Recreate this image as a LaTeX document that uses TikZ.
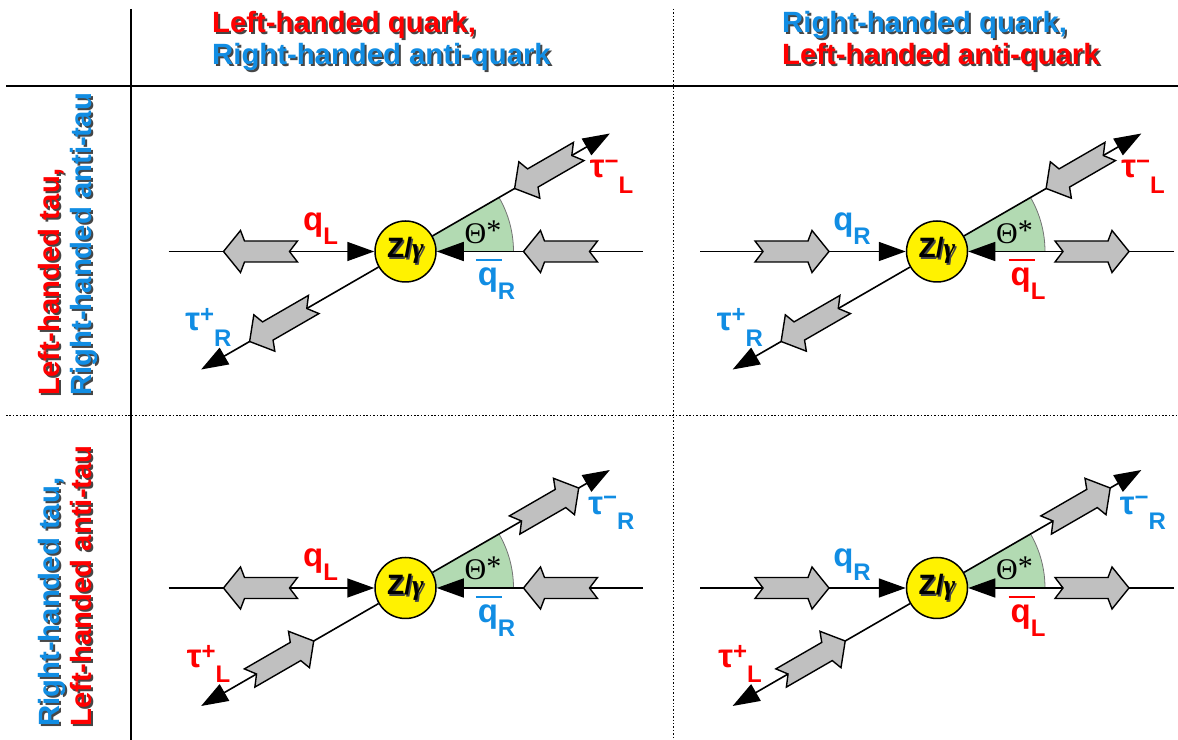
\documentclass[tikz,border=0pt]{standalone}
\usepackage{fontspec}
\setmainfont{Liberation Sans}
\newfontfamily\thetafont{Liberation Serif}
\usetikzlibrary{arrows.meta}
\definecolor{lred}{RGB}{255,0,0}
\definecolor{lblue}{RGB}{17,141,227}
\definecolor{shadow}{RGB}{70,70,70}
\definecolor{spingray}{RGB}{192,192,192}
\definecolor{wedgegreen}{RGB}{178,218,178}
\newcommand{\shd}[3][2bp]{\makebox[0pt][l]{\hspace*{#1}\raisebox{-2bp}{\color{shadow}#3}}\textcolor{#2}{#3}}
\newcommand{\subfnt}{\fontsize{24bp}{24bp}\selectfont}
\newcommand{\qlab}[1]{q\raisebox{-0.42em}{\subfnt #1}}
\newcommand{\qbarlab}[1]{\rlap{\kern-0.06em\raisebox{0.74em}{\rule{0.8em}{2bp}}}q\raisebox{-0.42em}{\subfnt #1}}
\newcommand{\taulab}[2]{τ\raisebox{0.25em}{\subfnt #1}\raisebox{-0.47em}{\subfnt #2}}
\newcommand{\zgtext}{Z/{\thetafont\bfseries\itshape γ}}
\begin{document}
\begin{tikzpicture}[>={Triangle[length=27bp,width=19bp]},line join=miter,
  axis/.style={line width=1.6bp,->},
  zg/.style={circle,draw,line width=1.5bp,fill=yellow,minimum size=61bp,inner sep=0pt,font=\fontsize{28bp}{28bp}\selectfont\bfseries},
  spinarrow/.style={draw,line width=1.4bp,fill=spingray},
  wedge/.style={fill=wedgegreen},
  arcline/.style={line width=0.8bp,draw=black!55},
  head/.style={inner sep=0pt,anchor=base west,font=\fontsize{29.3bp}{32bp}\selectfont\bfseries},
  lab/.style={inner sep=0pt,font=\fontsize{33bp}{33bp}\selectfont\bfseries},
  theta/.style={inner sep=0pt,anchor=base west,font=\fontsize{30bp}{30bp}\selectfont\thetafont},
  grid/.style={line width=1.5bp},
  dotgrid/.style={line width=1.3bp,dash pattern=on 1.5bp off 1.9bp},
  spin/.pic={\draw[spinarrow] (-37bp,10.5bp) -- (16bp,10.5bp) -- (20bp,21bp) -- (37bp,0bp) -- (20bp,-21bp) -- (16bp,-10.5bp) -- (-37bp,-10.5bp) -- (-29bp,0bp) -- cycle;}]
%%
\useasboundingbox (0bp,0bp) rectangle (1178bp,740bp);
\draw[grid] (131bp,731bp) -- (131bp,0bp);
\draw[grid] (6bp,654bp) -- (1178bp,654bp);
\draw[dotgrid] (673.5bp,731bp) -- (673.5bp,0bp);
\draw[dotgrid] (6bp,324.3bp) -- (1178bp,324.3bp);
%
\node[head] (hd_1a) at (212bp,707bp) {\shd{lred}{Left-handed quark,}};
\node[head] (hd_1b) at (212bp,675bp) {\shd{lblue}{Right-handed anti-quark}};
\node[head] (hd_2a) at (782bp,707bp) {\shd{lblue}{Right-handed quark,}};
\node[head] (hd_2b) at (782bp,675bp) {\shd{lred}{Left-handed anti-quark}};
\node[head,rotate=90] (rw_1a) at (59bp,344bp) {\shd[-2bp]{lred}{Left-handed tau,}};
\node[head,rotate=90] (rw_1b) at (91bp,344bp) {\shd[-2bp]{lblue}{Right-handed anti-tau}};
\node[head,rotate=90] (rw_2a) at (59bp,13bp) {\shd[-2bp]{lblue}{Right-handed tau,}};
\node[head,rotate=90] (rw_2b) at (91bp,13bp) {\shd[-2bp]{lred}{Left-handed anti-tau}};
%
\begin{scope}[shift={(405.5bp,488.5bp)}]
\fill[wedge] (0bp,0bp) -- (108bp,0bp) arc[start angle=0,end angle=30,radius=108bp] -- cycle;
\draw[arcline] (108bp,0bp) arc[start angle=0,end angle=30,radius=108bp];
\node[zg] (z_1) at (0bp,0bp) {\shd[1.5bp]{black}{\zgtext}};
\coordinate (qa_1) at (-237bp,0bp);
\coordinate (qb_1) at (237bp,0bp);
\coordinate (ta_1) at (30:236bp);
\coordinate (tb_1) at (210:236bp);
\draw[axis] (qa_1) -- (z_1);
\draw[axis] (qb_1) -- (z_1);
\draw[axis] (z_1) -- (ta_1);
\draw[axis] (z_1) -- (tb_1);
\pic[rotate=180] at (-145bp,0bp) {spin};
\pic[rotate=180] at (155bp,0bp) {spin};
\pic[rotate=210] at (30:163bp) {spin};
\pic[rotate=210] at (210:143bp) {spin};
\node[theta] (th_1) at (59bp,8bp) {Θ\raisebox{3bp}{*}};
\node[lab,text=lred] (q_1) at (-85bp,23bp) {\qlab{L}};
\node[lab,text=lblue] (qb_1l) at (91bp,-28bp) {\qbarlab{R}};
\node[lab,text=lred] (tm_1) at (206bp,75bp) {\taulab{−}{L}};
\node[lab,text=lblue] (tp_1) at (-197bp,-76bp) {\taulab{+}{R}};
\end{scope}
%
\begin{scope}[shift={(937bp,488.5bp)}]
\fill[wedge] (0bp,0bp) -- (108bp,0bp) arc[start angle=0,end angle=30,radius=108bp] -- cycle;
\draw[arcline] (108bp,0bp) arc[start angle=0,end angle=30,radius=108bp];
\node[zg] (z_2) at (0bp,0bp) {\shd[1.5bp]{black}{\zgtext}};
\coordinate (qa_2) at (-237bp,0bp);
\coordinate (qb_2) at (237bp,0bp);
\coordinate (ta_2) at (30:236bp);
\coordinate (tb_2) at (210:236bp);
\draw[axis] (qa_2) -- (z_2);
\draw[axis] (qb_2) -- (z_2);
\draw[axis] (z_2) -- (ta_2);
\draw[axis] (z_2) -- (tb_2);
\pic at (-145bp,0bp) {spin};
\pic at (155bp,0bp) {spin};
\pic[rotate=210] at (30:163bp) {spin};
\pic[rotate=210] at (210:143bp) {spin};
\node[theta] (th_2) at (59bp,8bp) {Θ\raisebox{3bp}{*}};
\node[lab,text=lblue] (q_2) at (-85bp,23bp) {\qlab{R}};
\node[lab,text=lred] (qb_2l) at (91bp,-28bp) {\qbarlab{L}};
\node[lab,text=lred] (tm_2) at (206bp,75bp) {\taulab{−}{L}};
\node[lab,text=lblue] (tp_2) at (-197bp,-76bp) {\taulab{+}{R}};
\end{scope}
%
\begin{scope}[shift={(405.5bp,152bp)}]
\fill[wedge] (0bp,0bp) -- (108bp,0bp) arc[start angle=0,end angle=30,radius=108bp] -- cycle;
\draw[arcline] (108bp,0bp) arc[start angle=0,end angle=30,radius=108bp];
\node[zg] (z_3) at (0bp,0bp) {\shd[1.5bp]{black}{\zgtext}};
\coordinate (qa_3) at (-237bp,0bp);
\coordinate (qb_3) at (237bp,0bp);
\coordinate (ta_3) at (30:236bp);
\coordinate (tb_3) at (210:236bp);
\draw[axis] (qa_3) -- (z_3);
\draw[axis] (qb_3) -- (z_3);
\draw[axis] (z_3) -- (ta_3);
\draw[axis] (z_3) -- (tb_3);
\pic[rotate=180] at (-145bp,0bp) {spin};
\pic[rotate=180] at (155bp,0bp) {spin};
\pic[rotate=30] at (30:163bp) {spin};
\pic[rotate=30] at (210:143bp) {spin};
\node[theta] (th_3) at (59bp,8bp) {Θ\raisebox{3bp}{*}};
\node[lab,text=lred] (q_3) at (-85bp,23bp) {\qlab{L}};
\node[lab,text=lblue] (qb_3l) at (91bp,-28bp) {\qbarlab{R}};
\node[lab,text=lblue] (tm_3) at (206bp,75bp) {\taulab{−}{R}};
\node[lab,text=lred] (tp_3) at (-197bp,-76bp) {\taulab{+}{L}};
\end{scope}
%
\begin{scope}[shift={(937bp,152bp)}]
\fill[wedge] (0bp,0bp) -- (108bp,0bp) arc[start angle=0,end angle=30,radius=108bp] -- cycle;
\draw[arcline] (108bp,0bp) arc[start angle=0,end angle=30,radius=108bp];
\node[zg] (z_4) at (0bp,0bp) {\shd[1.5bp]{black}{\zgtext}};
\coordinate (qa_4) at (-237bp,0bp);
\coordinate (qb_4) at (237bp,0bp);
\coordinate (ta_4) at (30:236bp);
\coordinate (tb_4) at (210:236bp);
\draw[axis] (qa_4) -- (z_4);
\draw[axis] (qb_4) -- (z_4);
\draw[axis] (z_4) -- (ta_4);
\draw[axis] (z_4) -- (tb_4);
\pic at (-145bp,0bp) {spin};
\pic at (155bp,0bp) {spin};
\pic[rotate=30] at (30:163bp) {spin};
\pic[rotate=30] at (210:143bp) {spin};
\node[theta] (th_4) at (59bp,8bp) {Θ\raisebox{3bp}{*}};
\node[lab,text=lblue] (q_4) at (-85bp,23bp) {\qlab{R}};
\node[lab,text=lred] (qb_4l) at (91bp,-28bp) {\qbarlab{L}};
\node[lab,text=lblue] (tm_4) at (206bp,75bp) {\taulab{−}{R}};
\node[lab,text=lred] (tp_4) at (-197bp,-76bp) {\taulab{+}{L}};
\end{scope}
%
\end{tikzpicture}
\end{document}
